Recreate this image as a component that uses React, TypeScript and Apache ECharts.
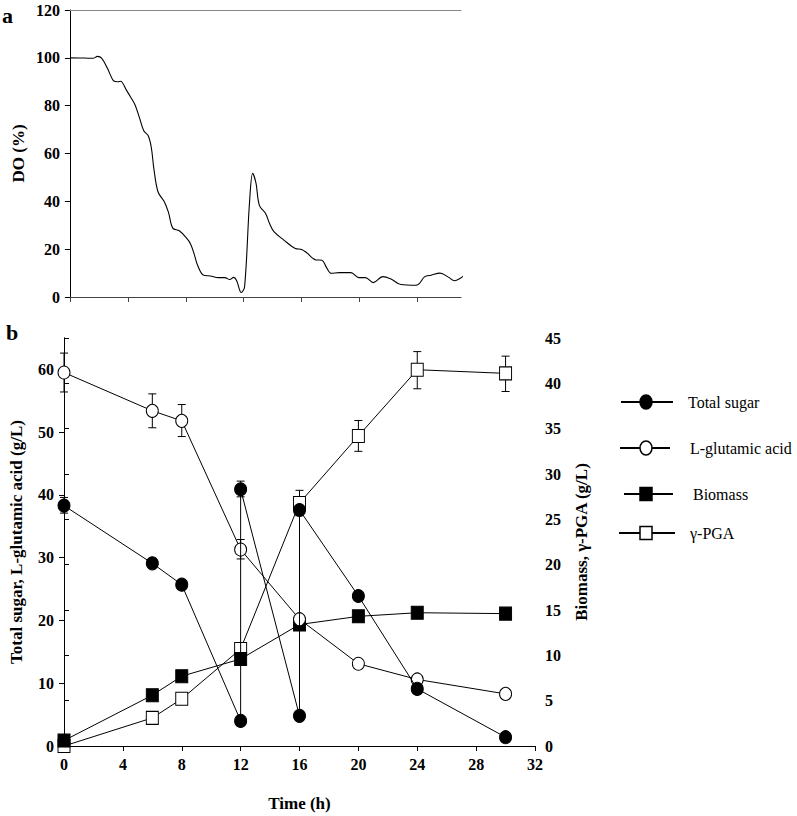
import React, { useEffect, useRef } from "react";
import * as echarts from "echarts";

// ---- Panel a: dissolved oxygen ----
const doTime = [0, 1.0, 1.6, 1.9, 2.2, 2.6, 3.0, 3.3, 3.5, 3.9, 4.2, 4.5, 4.8, 5.1, 5.4, 5.62, 5.8, 6.08, 6.5, 6.8, 7.1, 7.55, 8.0, 8.33, 8.6, 8.8, 9.2, 9.7, 10.25, 10.7, 11.04, 11.3, 11.5, 11.83, 12.06, 12.4, 12.62, 12.85, 13.08, 13.5, 13.8, 14.1, 14.77, 15.56, 16.0, 16.35, 17.0, 17.4, 17.7, 18.04, 18.6, 19.4, 19.95, 20.4, 20.95, 21.6, 22.2, 22.85, 23.85, 24.1, 24.5, 24.93, 25.55, 26.15, 26.55, 26.95, 27.25];
const doValue = [100, 99.9, 99.8, 100.6, 99.8, 95.5, 90.5, 90, 90.2, 86.5, 83.5, 80.3, 75, 69.5, 67.5, 62.5, 53.5, 44, 40, 35.5, 28.8, 27.7, 25, 22.2, 17.5, 13.5, 9.2, 8.8, 8.1, 8.1, 7.3, 8.2, 7.0, 1.9, 4.3, 39.5, 51.7, 47.5, 38.3, 35, 30.5, 27.2, 23.8, 20.3, 19.9, 18.5, 15.5, 15.4, 12.5, 9.9, 10.2, 10.2, 8.1, 8.1, 6.0, 8.5, 7.4, 5.2, 4.9, 5.5, 8.5, 9.1, 10.0, 8.2, 6.8, 7.8, 9.2];
const doTickValues = [0, 4, 8, 12, 16, 20, 24];

// ---- Panel b: fermentation ----
const leftTickValues = [0, 10, 20, 30, 40, 50, 60];
const sugarTime = [0, 6, 8, 12, 12, 16, 16, 20, 24, 30];
const sugarValue = [38.3, 29.1, 25.7, 4.0, 40.9, 4.8, 37.6, 23.9, 9.1, 1.4];
const gluTime = [0, 6, 8, 12, 16, 20, 24, 30];
const gluValue = [59.5, 53.4, 51.8, 31.3, 20.2, 13.1, 10.6, 8.3];
const bioTime = [0, 6, 8, 12, 16, 20, 24, 30];
const bioValue = [0.6, 5.6, 7.7, 9.6, 13.4, 14.3, 14.7, 14.6];
const pgaTime = [0, 6, 8, 12, 16, 20, 24, 30];
const pgaValue = [0, 3.1, 5.2, 10.7, 26.8, 34.2, 41.5, 41.1];

// error bars: [time, low, high]
const sugarErr = [[0, 37.1, 39.6], [6, 28.4, 29.9], [12, 39.7, 42.2]];
const gluErr = [[0, 56.4, 62.6], [6, 50.7, 56.1], [8, 49.3, 54.4], [12, 29.8, 32.9]];
const pgaErr = [[16, 25.4, 28.2], [20, 32.5, 35.9], [24, 39.4, 43.5], [30, 39.1, 43.0]];

const legendNames = ["Total sugar", "L-glutamic acid", "Biomass", "γ-PGA"];

const FONT = "'Liberation Serif', 'Times New Roman', 'DejaVu Serif', serif";

function zip(a: number[], b: number[]) {
  return a.map((x, i) => [x, b[i]]);
}

function errRender(params: any, api: any) {
  const x = api.value(0);
  const lo = api.coord([x, api.value(1)]);
  const hi = api.coord([x, api.value(2)]);
  const w = 4;
  const style = { stroke: "#000", lineWidth: 1 };
  return {
    type: "group",
    children: [
      { type: "line", shape: { x1: lo[0], y1: lo[1], x2: hi[0], y2: hi[1] }, style },
      { type: "line", shape: { x1: lo[0] - w, y1: lo[1], x2: lo[0] + w, y2: lo[1] }, style },
      { type: "line", shape: { x1: hi[0] - w, y1: hi[1], x2: hi[0] + w, y2: hi[1] }, style },
    ],
  };
}

export default function App() {
  const ref = useRef<HTMLDivElement>(null);
  useEffect(() => {
    document.body.style.margin = "0";
    const chart = echarts.init(ref.current!, null, { renderer: "svg" });
    const tickLabel = { fontFamily: FONT, fontWeight: "bold", fontSize: 16, color: "#000" };
    const nameStyle = { fontFamily: FONT, fontWeight: "bold", fontSize: 17, color: "#000" };
    const blackLine = { lineStyle: { color: "#000", width: 1 } };

    const legendY = [402, 448, 494, 533];
    const legendTextX = [688, 690, 693, 690];
    const legendLine = [[621, 673], [620, 670], [624, 673], [619, 675]];
    const legendGraphics: any[] = [];
    legendNames.forEach((name, i) => {
      const y = legendY[i];
      legendGraphics.push({
        type: "line",
        shape: { x1: legendLine[i][0], y1: y, x2: legendLine[i][1], y2: y },
        style: { stroke: "#000", lineWidth: 2 },
      });
      const fill = i === 0 || i === 2 ? "#000" : "#fff";
      if (i < 2) {
        legendGraphics.push({ type: "ellipse", shape: { cx: 646, cy: y, rx: 6, ry: 7 }, style: { fill, stroke: "#000", lineWidth: 1.5 } });
      } else {
        legendGraphics.push({ type: "rect", shape: { x: 640, y: y - 6.5, width: 12, height: 13 }, style: { fill, stroke: "#000", lineWidth: 1.5 } });
      }
      legendGraphics.push({
        type: "text",
        x: legendTextX[i],
        y,
        style: { text: name, font: "16px " + FONT, fontFamily: FONT, fontSize: 16, fill: "#000", verticalAlign: "middle", align: "left" },
      });
    });

    chart.setOption({
      animation: false,
      backgroundColor: "#fff",
      textStyle: { fontFamily: FONT },
      grid: [
        { left: 62, top: 10, width: 399, height: 287 },
        { left: 58, top: 338, width: 477, height: 408 },
      ],
      xAxis: [
        {
          gridIndex: 0, type: "value", min: 0, max: 27, interval: 4, position: "bottom",
          axisLine: { lineStyle: { color: "#444", width: 1 } },
          axisTick: { show: true, inside: false, length: 5, lineStyle: { color: "#444" }, customValues: doTickValues },
          axisLabel: { show: false }, splitLine: { show: false },
        },
        {
          gridIndex: 0, type: "value", min: 0, max: 27, position: "top",
          axisLine: { lineStyle: { color: "#888", width: 1 } },
          axisTick: { show: false }, axisLabel: { show: false }, splitLine: { show: false },
        },
        {
          gridIndex: 1, type: "value", min: 0, max: 32, interval: 4, position: "bottom",
          axisLine: blackLine,
          axisTick: { show: true, length: 5, lineStyle: { color: "#000" } },
          axisLabel: { ...tickLabel, margin: 10 }, splitLine: { show: false },
          name: "Time (h)", nameLocation: "middle", nameGap: 49, nameTextStyle: nameStyle,
        },
        {
          gridIndex: 1, type: "value", min: 0, max: 32, position: "top",
          axisLine: blackLine,
          axisTick: { show: false }, axisLabel: { show: false }, splitLine: { show: false },
        },
      ],
      yAxis: [
        {
          gridIndex: 0, type: "value", min: 0, max: 120, interval: 20, position: "left",
          axisLine: { show: true, ...blackLine },
          axisTick: { show: true, length: 5, lineStyle: { color: "#000" } },
          axisLabel: { ...tickLabel, margin: 10 }, splitLine: { show: false },
          name: "DO (%)", nameLocation: "middle", nameGap: 43, nameTextStyle: nameStyle,
        },
        {
          gridIndex: 1, type: "value", min: 0, max: 65, interval: 10, position: "left",
          axisLine: { show: true, ...blackLine },
          axisTick: { show: true, length: 5, lineStyle: { color: "#000" }, customValues: leftTickValues },
          axisLabel: { ...tickLabel, margin: 10, customValues: leftTickValues, formatter: (v: number) => (v % 10 === 0 && v <= 60 ? String(v) : "") },
          splitLine: { show: false },
          name: "Total sugar, L-glutamic acid (g/L)", nameLocation: "middle", nameGap: 39, nameTextStyle: nameStyle,
        },
        {
          gridIndex: 1, type: "value", min: 0, max: 45, interval: 5, position: "right",
          axisLine: { show: true, ...blackLine },
          axisTick: { show: true, length: 5, lineStyle: { color: "#000" } },
          axisLabel: { ...tickLabel, margin: 10 }, splitLine: { show: false },
          name: "Biomass, γ-PGA (g/L)", nameLocation: "middle", nameGap: 38, nameTextStyle: nameStyle,
        },
      ],
      graphic: [
        { type: "text", x: 2, y: 4, style: { text: "a", font: "bold 22px " + FONT, fontFamily: FONT, fontWeight: "bold", fontSize: 22, fill: "#000" } },
        { type: "text", x: 6, y: 321, style: { text: "b", font: "bold 22px " + FONT, fontFamily: FONT, fontWeight: "bold", fontSize: 22, fill: "#000" } },
        ...legendGraphics,
      ],
      series: [
        {
          name: "DO", type: "line", xAxisIndex: 0, yAxisIndex: 0, data: zip(doTime, doValue),
          smooth: 0.35, showSymbol: false, lineStyle: { color: "#000", width: 1.1 },
        },
        { type: "custom", xAxisIndex: 2, yAxisIndex: 1, data: sugarErr, renderItem: errRender, encode: { x: 0, y: [1, 2] }, z: 1 },
        { type: "custom", xAxisIndex: 2, yAxisIndex: 1, data: gluErr, renderItem: errRender, encode: { x: 0, y: [1, 2] }, z: 1 },
        { type: "custom", xAxisIndex: 2, yAxisIndex: 2, data: pgaErr, renderItem: errRender, encode: { x: 0, y: [1, 2] }, z: 1 },
        {
          name: legendNames[3], type: "line", xAxisIndex: 2, yAxisIndex: 2, data: zip(pgaTime, pgaValue),
          symbol: "rect", symbolSize: [12, 13], lineStyle: { color: "#000", width: 1 },
          itemStyle: { color: "#fff", borderColor: "#000", borderWidth: 1 }, z: 2,
        },
        {
          name: legendNames[2], type: "line", xAxisIndex: 2, yAxisIndex: 2, data: zip(bioTime, bioValue),
          symbol: "rect", symbolSize: [12, 13], lineStyle: { color: "#000", width: 1 },
          itemStyle: { color: "#000", borderColor: "#000", borderWidth: 1 }, z: 3,
        },
        {
          name: legendNames[1], type: "line", xAxisIndex: 2, yAxisIndex: 1, data: zip(gluTime, gluValue),
          symbol: "circle", symbolSize: [12, 13], lineStyle: { color: "#000", width: 1 },
          itemStyle: { color: "#fff", borderColor: "#000", borderWidth: 1 }, z: 3,
        },
        {
          name: legendNames[0], type: "line", xAxisIndex: 2, yAxisIndex: 1, data: zip(sugarTime, sugarValue),
          symbol: "circle", symbolSize: [12, 13], lineStyle: { color: "#000", width: 1 },
          itemStyle: { color: "#000", borderColor: "#000", borderWidth: 1 }, z: 4,
        },
      ],
    });
    return () => chart.dispose();
  }, []);
  return <div ref={ref} style={{ width: 797, height: 816 }} />;
}
